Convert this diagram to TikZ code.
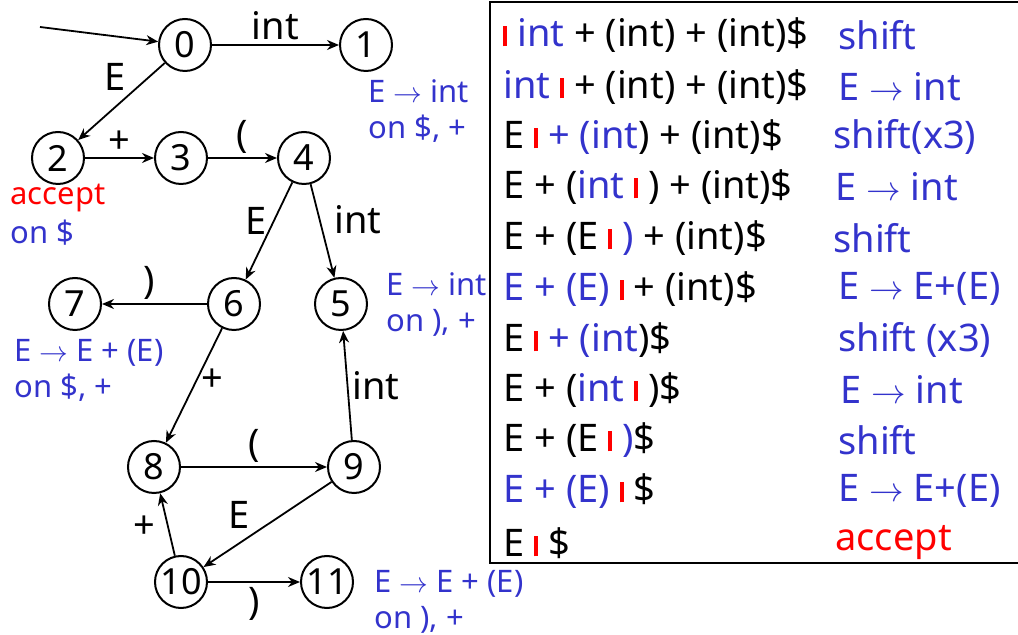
\documentclass[tikz,border=0pt]{standalone}
\usepackage{fontspec}
\setmainfont{Noto Sans}
\usetikzlibrary{positioning,arrows.meta}
\definecolor{lrblue}{RGB}{51,51,204}
\definecolor{lrred}{RGB}{255,0,0}
\newcommand{\redbar}{{\color{lrred}\rule{2pt}{10pt}}}
\newcommand{\bluetxt}[1]{\textcolor{lrblue}{#1}}
\tikzset{
  st/.style={draw, circle, line width=1pt, minimum size=26pt, inner sep=0pt, font=\fontsize{18}{20}\selectfont},
  tr/.style={-{Stealth[length=6pt,width=5pt]}, line width=0.9pt},
  lab/.style={font=\fontsize{19}{21}\selectfont, inner sep=2pt},
  note/.style={font=\fontsize{15.5}{18}\selectfont, text=lrblue, anchor=west, align=left, inner sep=0pt},
  row/.style={font=\fontsize{19}{22}\selectfont, anchor=west, inner sep=0pt},
  tbl/.style={draw, line width=1pt}
}
\begin{document}
\begin{tikzpicture}[x=0.5pt, y=-0.5pt]
  \useasboundingbox (0,0) rectangle (1018,635);
  % LR automaton
  \node[st] (s0) at (185,45) {0};
  \node[st] (s1) at (366,45) {1};
  \node[st] (s2) at (58,158) {2};
  \node[st] (s3) at (181,158) {3};
  \node[st] (s4) at (304,158) {4};
  \node[st] (s5) at (341,304) {5};
  \node[st] (s6) at (234,304) {6};
  \node[st] (s7) at (75,304) {7};
  \node[st] (s8) at (154,467) {8};
  \node[st] (s9) at (354,467) {9};
  \node[st] (s10) at (181,582) {10};
  \node[st] (s11) at (327,582) {11};
  \coordinate (start) at (40,27);
  \draw[tr] (start) -- (s0);
  \draw[tr] (s0) -- node[lab, above] {int} (s1);
  \draw[tr] (s0) -- node[lab, above left=0pt and -1pt, pos=0.42] {E} (s2);
  \draw[tr] (s2) -- node[lab, above] {+} (s3);
  \draw[tr] (s3) -- node[lab, above] {(} (s4);
  \draw[tr] (s4) -- node[lab, left=1pt, pos=0.4] {E} (s6);
  \draw[tr] (s4) -- node[lab, right=5pt, pos=0.38] {int} (s5);
  \draw[tr] (s6) -- node[lab, above, pos=0.55] {)} (s7);
  \draw[tr] (s6) -- node[lab, right, pos=0.45] {+} (s8);
  \draw[tr] (s9) -- node[lab, right, pos=0.5] {int} (s5);
  \draw[tr] (s8) -- node[lab, above] {(} (s9);
  \draw[tr] (s9) -- node[lab, above left=0pt and 0pt, pos=0.6] {E} (s10);
  \draw[tr] (s10) -- node[lab, left=4pt, pos=0.45] {+} (s8);
  \draw[tr] (s10) -- node[lab, below] {)} (s11);
  % reduce notes
  \node[note] (n1) at (368,111) {E $\rightarrow$ int\\on \$, +};
  \node[note, text=lrred] (n2) at (10,198) {accept};
  \node[note] (n3) at (10,233) {on \$};
  \node[note] (n5) at (386,305) {E $\rightarrow$ int\\on ), +};
  \node[note] (n7) at (14,370) {E $\rightarrow$ E + (E)\\on \$, +};
  \node[note] (n11) at (374,602) {E $\rightarrow$ E + (E)\\on ), +};
  % parse trace
  \draw[tbl] (490,2) rectangle (1030,563);
  \node[row] (r1) at (503,35) {\redbar\ \bluetxt{int} + (int) + (int)\$};
  \node[row] (r2) at (503,87) {\bluetxt{int} \redbar\ + (int) + (int)\$};
  \node[row] (r3) at (503,137) {E \redbar\ \bluetxt{+ (int}) + (int)\$};
  \node[row] (r4) at (503,187) {E + (\bluetxt{int} \redbar\ ) + (int)\$};
  \node[row] (r5) at (503,238) {E + (E \redbar\ \bluetxt{)} + (int)\$};
  \node[row] (r6) at (503,289) {\bluetxt{E + (E)} \redbar\ + (int)\$};
  \node[row] (r7) at (503,340) {E \redbar\ \bluetxt{+ (int})\$};
  \node[row] (r8) at (503,390) {E + (\bluetxt{int} \redbar\ )\$};
  \node[row] (r9) at (503,440) {E + (E \redbar\ \bluetxt{)}\$};
  \node[row] (r10) at (503,491) {\bluetxt{E + (E)} \redbar\ \$};
  \node[row] (r11) at (503,543) {E \redbar\ \$};
  \node[row, text=lrblue] (a1) at (838,35) {shift};
  \node[row, text=lrblue] (a2) at (838,87) {E $\rightarrow$ int};
  \node[row, text=lrblue] (a3) at (833,137) {shift(x3)};
  \node[row, text=lrblue] (a4) at (835,187) {E $\rightarrow$ int};
  \node[row, text=lrblue] (a5) at (833,238) {shift};
  \node[row, text=lrblue] (a6) at (838,289) {E $\rightarrow$ E+(E)};
  \node[row, text=lrblue] (a7) at (838,340) {shift (x3)};
  \node[row, text=lrblue] (a8) at (840,390) {E $\rightarrow$ int};
  \node[row, text=lrblue] (a9) at (838,440) {shift};
  \node[row, text=lrblue] (a10) at (838,491) {E $\rightarrow$ E+(E)};
  \node[row, text=lrred] (a11) at (835,543) {accept};
\end{tikzpicture}
\end{document}
